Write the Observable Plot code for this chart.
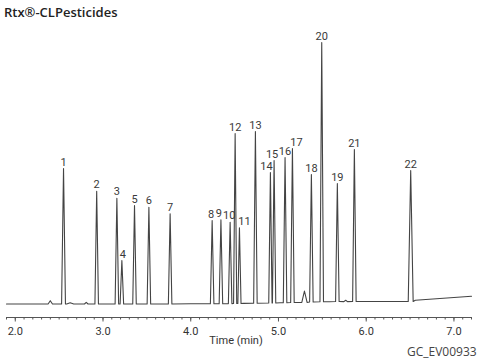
<!DOCTYPE html>
<html><head><meta charset="utf-8">
<script src="https://cdn.jsdelivr.net/npm/d3@7"></script>
<script src="https://cdn.jsdelivr.net/npm/@observablehq/plot@0.6"></script>
<style>
body{margin:0;background:#fff;width:489px;height:361px;overflow:hidden;position:relative;font-family:"Open Sans",sans-serif}
#title{height:24px;line-height:24px;padding-left:4px;font-size:13px;font-weight:600;color:#222;white-space:nowrap}
#caption{position:absolute;left:407px;top:344px;font-size:12px;color:#444;line-height:16px}
#chart svg{display:block}
</style></head><body>
<div id="title">Rtx®-CLPesticides</div>
<div id="chart"></div>
<div id="caption">GC_EV00933</div>
<script>
// Numbered peaks (retention time in min, apex response, baseline under peak)
const peakLabels = ["1","2","3","4","5","6","7","8","9","10","11","12","13","14","15","16","17","18","19","20","21","22"];
const peakTimes = [2.550, 2.928, 3.158, 3.215, 3.359, 3.523, 3.765, 4.244, 4.344, 4.449, 4.555, 4.506, 4.737, 4.908, 4.950, 5.075, 5.159, 5.375, 5.671, 5.493, 5.865, 6.507];
const peakHeights = [135.5, 112.8, 105.8, 43.5, 98.5, 96.8, 90.2, 83.5, 84.2, 81.8, 76.2, 170.5, 172.5, 131.5, 143.5, 146.5, 155.5, 129.5, 120.5, 261.5, 154.5, 133.5];
const peakBases = [0, 0, 0, 0, 0, 0, 0, 0.3, 0.3, 0.4, 0.5, 0.5, 0.8, 1, 1, 1.3, 1.5, 2, 2.5, 2.2, 2.5, 2.5];
const peakHalfWidths = [0.022, 0.02, 0.02, 0.02, 0.02, 0.02, 0.02, 0.02, 0.02, 0.02, 0.018, 0.018, 0.02, 0.019, 0.019, 0.02, 0.02, 0.02, 0.02, 0.02, 0.02, 0.028];
const labelShiftX = [0, 0, 0, 1, 0, 0, 0, -1, -2, -1, 5, 0, 0, -4, -2, 0, 4, 0, 0, 0, 0, 0];

// Small unlabelled bumps
const minorTimes = [2.399, 2.626, 2.809, 5.296, 5.766];
const minorHeights = [3.3, 1.2, 1.7, 13, 3.8];
const minorBases = [0, 0, 0, 1.6, 2.4];
const minorHalfWidths = [0.025, 0.04, 0.02, 0.03, 0.02];

// Baseline drift
const baselineTimes = [1.9, 2.3, 2.75, 3.45, 4.0, 4.6, 5.02, 5.58, 6.1, 6.45, 6.56, 7.2];
const baselineValues = [0, 0, 0, 0, 0.2, 0.6, 1.2, 2.3, 2.5, 2.5, 3.8, 7.8];

// Axis ticks
const minorTicks = d3.range(19, 73).map(d => d / 10);
const majorTicks = [2, 3, 4, 5, 6, 7];
const axisTitle = "Time (min)";

// Build the trace table
const trace = [];
baselineTimes.forEach((t, i) => trace.push({t, s: baselineValues[i]}));
peakTimes.forEach((t, i) => {
  const w = peakHalfWidths[i], b = peakBases[i];
  trace.push({t: t - w, s: b}, {t, s: peakHeights[i]}, {t: t + w, s: b});
});
minorTimes.forEach((t, i) => {
  const w = minorHalfWidths[i], b = minorBases[i];
  trace.push({t: t - w, s: b}, {t, s: minorHeights[i]}, {t: t + w, s: b});
});
trace.sort((a, b) => a.t - b.t);

const peaks = peakLabels.map((label, i) => ({label, t: peakTimes[i], s: peakHeights[i], dx: labelShiftX[i]}));
const labelMarks = d3.groups(peaks, d => d.dx).map(([dx, arr]) =>
  Plot.text(arr, {x: "t", y: "s", text: "label", dx, dy: -3, lineAnchor: "bottom", fill: "#3a3a3a", fontSize: 11})
);

const chart = Plot.plot({
  width: 489,
  height: 337,
  marginLeft: 6,
  marginRight: 18,
  marginTop: 0,
  marginBottom: 44,
  x: {domain: [1.9, 7.2]},
  y: {domain: [-13.5, 279.5], axis: null},
  style: {fontFamily: "Roboto, 'Open Sans', sans-serif", fontSize: "11px", color: "#333", background: "#fff"},
  marks: [
    Plot.ruleY([-13.5], {stroke: "#555", strokeWidth: 1}),
    Plot.axisX(minorTicks, {tickSize: 2.5, tickFormat: () => "", label: null, stroke: "#555"}),
    Plot.axisX(majorTicks, {tickSize: 4.5, tickPadding: 5, tickFormat: d3.format(".1f"), label: null, stroke: "#555", fill: "#333", fontSize: 11}),
    Plot.text([axisTitle], {text: d => d, frameAnchor: "bottom", dx: -3, dy: 26, fill: "#333", fontSize: 11}),
    Plot.line(trace, {x: "t", y: "s", stroke: "#444", strokeWidth: 1.1}),
    ...labelMarks
  ]
});
document.getElementById("chart").appendChild(chart);
</script>
</body></html>
